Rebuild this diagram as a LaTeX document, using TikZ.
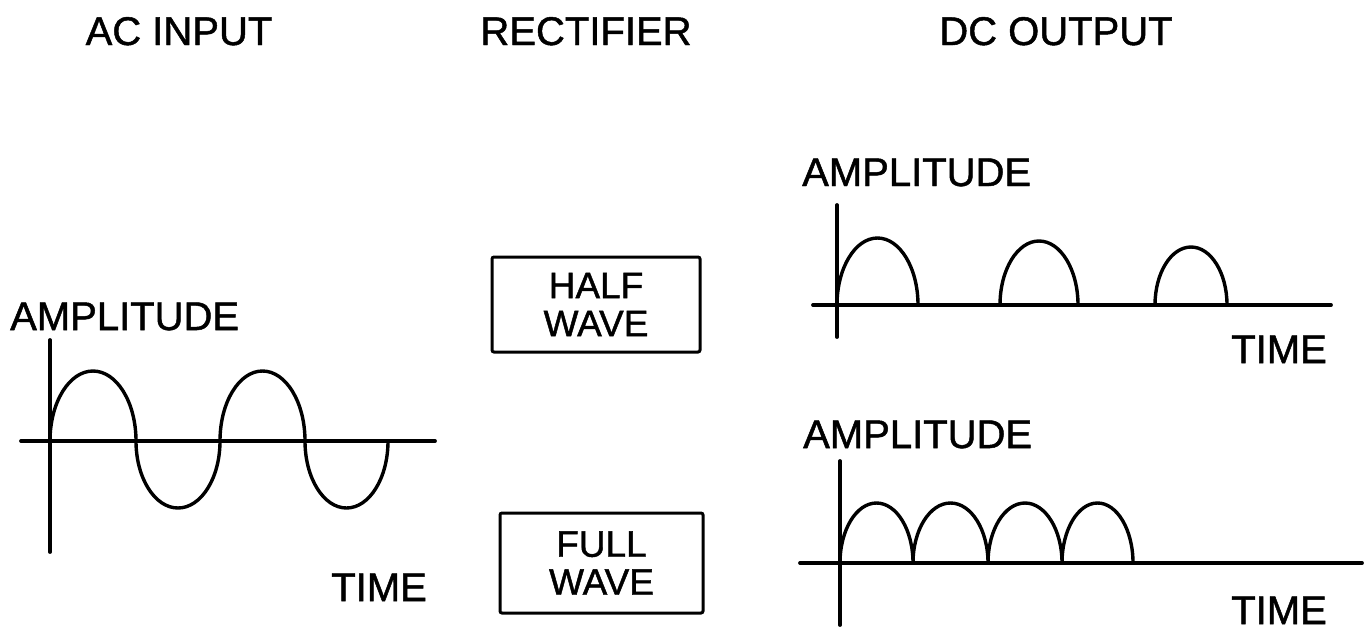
\documentclass[tikz,border=0pt]{standalone}
\usepackage{fontspec}
\setmainfont{Liberation Sans}[FakeBold=1.2]
\begin{document}
\begin{tikzpicture}[x=1pt,y=-1pt,
  lbl/.style={inner sep=0pt, font=\fontsize{40}{44}\selectfont},
  axis/.style={line width=3.8pt, line cap=round},
  wave/.style={line width=3.4pt},
  rectbox/.style={draw, line width=3pt, rounded corners=2pt, inner sep=0pt, align=center, font=\fontsize{37}{38}\selectfont}]
\useasboundingbox[fill=white] (0,0) rectangle (1364,633);

% headers
\node[lbl, anchor=base] (hac) at (179,45) {AC INPUT};
\node[lbl, anchor=base] (hrect) at (586,45) {RECTIFIER};
\node[lbl, anchor=base] (hdc) at (1056,45) {DC OUTPUT};

% AC input graph
\node[lbl, anchor=base west] (ampA) at (10,330) {AMPLITUDE};
\node[lbl, anchor=base east] (timeA) at (427,601) {TIME};
\draw[axis] (50,340) -- (50,552);
\draw[axis] (21,441) -- (435,441);
\draw[wave] (50,441)
  arc[start angle=180,end angle=360,x radius=43,y radius=70]
  arc[start angle=180,end angle=0,x radius=42,y radius=67]
  arc[start angle=180,end angle=360,x radius=42.5,y radius=70]
  arc[start angle=180,end angle=0,x radius=41.5,y radius=67];

% rectifier boxes
\node[rectbox, minimum width=208pt, minimum height=95pt] (half) at (596,304.5) {HALF\\WAVE};
\node[rectbox, minimum width=203pt, minimum height=100pt] (full) at (601.5,563) {FULL\\WAVE};

% half wave output
\node[lbl, anchor=base west] (ampH) at (802,186) {AMPLITUDE};
\node[lbl, anchor=base east] (timeH) at (1327,363) {TIME};
\draw[axis] (837,205) -- (837,337);
\draw[axis] (813,305) -- (1331,305);
\draw[wave] (837,305) arc[start angle=180,end angle=360,x radius=40.5,y radius=67];
\draw[wave] (1000,305) arc[start angle=180,end angle=360,x radius=39,y radius=64];
\draw[wave] (1155,305) arc[start angle=180,end angle=360,x radius=36,y radius=58];

% full wave output
\node[lbl, anchor=base west] (ampF) at (803,448) {AMPLITUDE};
\node[lbl, anchor=base east] (timeF) at (1327,624) {TIME};
\draw[axis] (840,461) -- (840,625);
\draw[axis] (800,563) -- (1362,563);
\draw[wave] (840,563)
  arc[start angle=180,end angle=360,x radius=36.5,y radius=60]
  arc[start angle=180,end angle=360,x radius=37.5,y radius=60]
  arc[start angle=180,end angle=360,x radius=37,y radius=60]
  arc[start angle=180,end angle=360,x radius=35.5,y radius=60];
\end{tikzpicture}
\end{document}
